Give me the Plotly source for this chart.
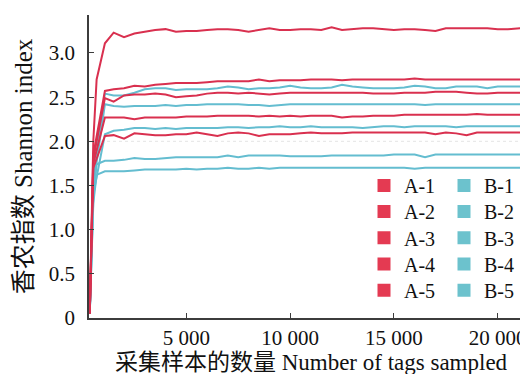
import plotly.graph_objects as go

# ---------------- data ----------------
samples = [350, 520, 680, 1080, 1500,
           2000, 2500, 3000, 3500, 4000, 4500, 5000, 5500, 6000, 6500,
           7000, 7500, 8000, 8500, 9000, 9500, 10000, 10500, 11000, 11500,
           12000, 12500, 13000, 13500, 14000, 14500, 15000, 15500, 16000, 16500,
           17000, 17500, 18000, 18500, 19000, 19500, 20000, 20500, 21100]

A1 = [0.05, 2.00, 2.70, 3.11, 3.23,
      3.18, 3.22, 3.24, 3.26, 3.27, 3.24, 3.25, 3.25, 3.26, 3.27,
      3.27, 3.26, 3.24, 3.26, 3.28, 3.26, 3.26, 3.27, 3.27, 3.26,
      3.29, 3.26, 3.27, 3.28, 3.28, 3.27, 3.26, 3.27, 3.27, 3.26,
      3.25, 3.28, 3.28, 3.28, 3.28, 3.28, 3.27, 3.27, 3.28]
A2 = [0.05, 1.85, None, 2.57, 2.59,
      2.60, 2.63, 2.62, 2.64, 2.65, 2.66, 2.66, 2.66, 2.67, 2.68,
      2.68, 2.68, 2.68, 2.70, 2.68, 2.69, 2.69, 2.69, 2.70, 2.70,
      2.70, 2.69, 2.70, 2.70, 2.70, 2.70, 2.70, 2.70, 2.71, 2.70,
      2.70, 2.70, 2.70, 2.70, 2.70, 2.70, 2.70, 2.70, 2.70]
A3 = [0.05, 1.80, None, 2.49, 2.45,
      2.52, 2.53, 2.53, 2.54, 2.53, 2.50, 2.51, 2.52, 2.54, 2.55,
      2.55, 2.54, 2.55, 2.54, 2.53, 2.54, 2.55, 2.55, 2.55, 2.55,
      2.55, 2.55, 2.55, 2.55, 2.54, 2.54, 2.54, 2.55, 2.55, 2.55,
      2.56, 2.56, 2.56, 2.55, 2.54, 2.54, 2.55, 2.55, 2.55]
A4 = [0.05, 1.75, None, 2.27, 2.27,
      2.27, 2.25, 2.27, 2.27, 2.27, 2.27, 2.28, 2.28, 2.28, 2.29,
      2.29, 2.29, 2.29, 2.28, 2.29, 2.28, 2.29, 2.28, 2.29, 2.29,
      2.29, 2.27, 2.28, 2.28, 2.29, 2.29, 2.29, 2.30, 2.30, 2.30,
      2.30, 2.30, 2.30, 2.30, 2.31, 2.30, 2.30, 2.30, 2.30]
A5 = [0.05, 1.70, None, 2.06, 2.07,
      2.03, 2.09, 2.08, 2.07, 2.07, 2.08, 2.08, 2.10, 2.08, 2.06,
      2.09, 2.10, 2.09, 2.06, 2.08, 2.08, 2.08, 2.09, 2.10, 2.09,
      2.09, 2.09, 2.10, 2.10, 2.10, 2.10, 2.10, 2.10, 2.10, 2.10,
      2.08, 2.10, 2.09, 2.07, 2.10, 2.10, 2.10, 2.10, 2.10]
B1 = [0.05, 1.60, None, 2.54, 2.52,
      2.52, 2.55, 2.59, 2.60, 2.60, 2.58, 2.59, 2.59, 2.59, 2.60,
      2.62, 2.61, 2.59, 2.60, 2.60, 2.61, 2.63, 2.61, 2.60, 2.60,
      2.61, 2.64, 2.62, 2.61, 2.60, 2.60, 2.60, 2.61, 2.63, 2.62,
      2.60, 2.60, 2.62, 2.62, 2.62, 2.60, 2.62, 2.62, 2.62]
B2 = [0.05, 1.50, None, 2.42, 2.40,
      2.39, 2.40, 2.40, 2.40, 2.41, 2.40, 2.41, 2.41, 2.42, 2.42,
      2.42, 2.42, 2.41, 2.41, 2.40, 2.41, 2.42, 2.42, 2.42, 2.42,
      2.42, 2.42, 2.42, 2.42, 2.42, 2.42, 2.42, 2.42, 2.42, 2.41,
      2.42, 2.42, 2.42, 2.42, 2.42, 2.42, 2.42, 2.42, 2.42]
B3 = [0.05, 1.40, None, 2.08, 2.12,
      2.13, 2.15, 2.15, 2.14, 2.15, 2.14, 2.15, 2.15, 2.15, 2.15,
      2.16, 2.16, 2.15, 2.16, 2.16, 2.17, 2.16, 2.16, 2.17, 2.16,
      2.16, 2.16, 2.16, 2.15, 2.16, 2.17, 2.17, 2.16, 2.17, 2.17,
      2.17, 2.17, 2.16, 2.17, 2.17, 2.17, 2.17, 2.17, 2.17]
B4 = [0.05, 1.35, 1.74, 1.78, 1.78,
      1.79, 1.81, 1.80, 1.80, 1.81, 1.82, 1.82, 1.82, 1.82, 1.82,
      1.84, 1.82, 1.84, 1.84, 1.84, 1.84, 1.83, 1.83, 1.83, 1.83,
      1.84, 1.84, 1.84, 1.84, 1.84, 1.84, 1.85, 1.85, 1.85, 1.82,
      1.85, 1.85, 1.85, 1.85, 1.85, 1.85, 1.85, 1.85, 1.85]
B5 = [0.05, 1.30, 1.62, 1.66, 1.66,
      1.66, 1.67, 1.68, 1.68, 1.68, 1.68, 1.69, 1.68, 1.69, 1.69,
      1.70, 1.69, 1.69, 1.70, 1.69, 1.70, 1.70, 1.70, 1.70, 1.70,
      1.70, 1.70, 1.70, 1.70, 1.70, 1.70, 1.70, 1.70, 1.69, 1.70,
      1.70, 1.70, 1.70, 1.70, 1.70, 1.70, 1.70, 1.70, 1.70]

a_names = ["A-1", "A-2", "A-3", "A-4", "A-5"]
b_names = ["B-1", "B-2", "B-3", "B-4", "B-5"]
a_series = [A1, A2, A3, A4, A5]
b_series = [B1, B2, B3, B4, B5]

x_tickvals = [5000, 10000, 15000, 20000]
x_ticktext = ["5 000", "10 000", "15 000", "20 000"]
y_tickvals = [0, 0.5, 1.0, 1.5, 2.0, 2.5, 3.0]
y_ticktext = ["0", "0.5", "1.0", "1.5", "2.0", "2.5", "3.0"]

# ---------------- styling ----------------
RED_LINE = "#d9304f"
RED_SQ = "#e43a52"
CYAN_LINE = "#64bdd0"
CYAN_SQ = "#6cc2cd"
FONT = "Liberation Serif, 'Times New Roman', 'Noto Sans CJK SC', serif"

PLOT_L, PLOT_W, PLOT_T, PLOT_H = 81, 444, 7, 303
LEG_A_LEFT, LEG_B_LEFT = 356, 436          # pixel left of each legend column
ROW_CENTERS = [177.5, 203.5, 229.8, 256.0, 282.3]  # pixel anchor of each legend row

fig = go.Figure()

for name, ys in zip(b_names, b_series):
    fig.add_trace(go.Scatter(x=samples, y=ys, mode="lines", name=name,
                             line=dict(color=CYAN_LINE, width=2),
                             connectgaps=True, showlegend=False))
for name, ys in zip(a_names, a_series):
    fig.add_trace(go.Scatter(x=samples, y=ys, mode="lines", name=name,
                             line=dict(color=RED_LINE, width=2),
                             connectgaps=True, showlegend=False))

legend_common = dict(font=dict(family=FONT, size=20, color="#111"),
                     bgcolor="rgba(0,0,0,0)", xref="paper", yref="paper",
                     xanchor="left", yanchor="middle", itemsizing="trace")

legend_layouts = {}
k = 0
for col, (names, color, left) in enumerate([(a_names, RED_SQ, LEG_A_LEFT),
                                           (b_names, CYAN_SQ, LEG_B_LEFT)]):
    for row, name in enumerate(names):
        k += 1
        lid = "legend" if k == 1 else f"legend{k}"
        fig.add_trace(go.Scatter(x=[None], y=[None], mode="markers", name=name,
                                 marker=dict(symbol="square", size=13, color=color),
                                 legend=lid))
        legend_layouts[lid] = dict(x=(left - PLOT_L) / PLOT_W,
                                   y=1 - (ROW_CENTERS[row] - PLOT_T) / PLOT_H,
                                   **legend_common)

fig.add_hline(y=2.0, line=dict(color="#e4e4e4", width=1, dash="dot"), layer="below")

axis_common = dict(showline=True, linecolor="#3c3c3c", linewidth=1.5,
                   ticks="inside", ticklen=5, tickcolor="#3c3c3c", tickwidth=1.2,
                   showgrid=False, zeroline=False, automargin=False,
                   tickfont=dict(family=FONT, size=21, color="#111"))

fig.update_layout(
    width=528, height=374,
    margin=dict(l=PLOT_L, r=528 - PLOT_L - PLOT_W, t=PLOT_T, b=374 - PLOT_T - PLOT_H,
                autoexpand=False),
    plot_bgcolor="white", paper_bgcolor="white",
    font=dict(family=FONT, color="#111"),
    xaxis=dict(range=[313, 21700], tickvals=x_tickvals, ticktext=x_ticktext,
               title=dict(text="采集样本的数量 Number of tags sampled",
                          font=dict(family=FONT, size=23), standoff=0),
               **axis_common),
    yaxis=dict(range=[0, 3.43], tickvals=y_tickvals, ticktext=y_ticktext,
               title=dict(text="香农指数 Shannon index",
                          font=dict(family=FONT, size=25), standoff=9),
               ticklabelstandoff=8,
               **axis_common),
    **legend_layouts,
)

fig.write_html("out.html")
